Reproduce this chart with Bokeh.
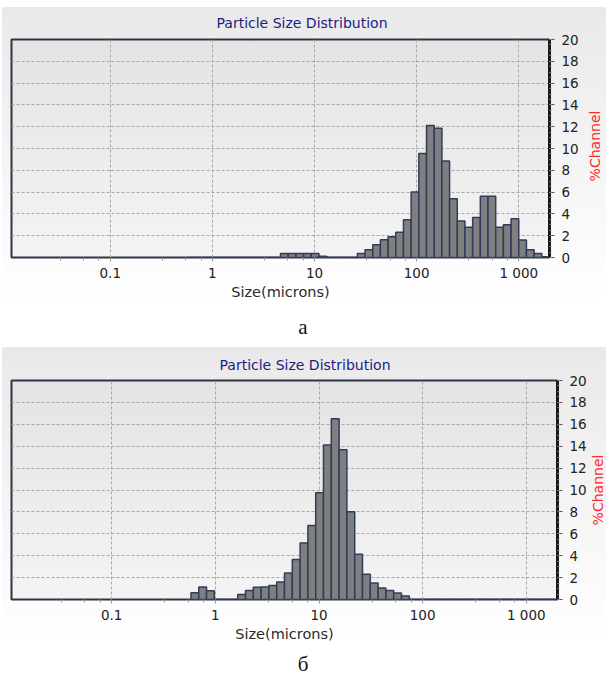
import math
from bokeh.plotting import figure
from bokeh.models import Range1d, FixedTicker, SingleIntervalTicker, Div
from bokeh.layouts import column
from bokeh.embed import file_html
from bokeh.resources import INLINE

# Channel edges (microns) of the analyser
channel_edges = [0.5814, 0.6915, 0.8222, 0.9777, 1.163, 1.381, 1.642, 1.953, 2.323, 2.762,
                 3.284, 3.906, 4.645, 5.524, 6.570, 7.813, 9.291, 11.05, 13.14, 15.63,
                 18.58, 22.10, 26.28, 31.25, 37.16, 44.19, 52.56, 62.50, 74.33, 88.39,
                 105.1, 125.0, 148.7, 176.8, 210.2, 250.0, 297.3, 353.6, 420.4, 500.0,
                 594.6, 707.1, 840.9, 1000.0, 1189.0, 1414.0, 1682.0, 2000.0]

# %Channel, panel "a"
pct_a = [0, 0, 0, 0, 0, 0, 0, 0, 0, 0,
         0, 0, 0.37, 0.37, 0.37, 0.37, 0.37, 0.12, 0, 0,
         0, 0, 0.37, 0.72, 1.16, 1.62, 1.90, 2.32, 3.47, 6.00,
         9.55, 12.10, 11.85, 8.85, 5.40, 3.36, 2.77, 3.68, 5.63, 5.63,
         2.77, 3.00, 3.56, 1.61, 0.72, 0.36, 0.08]

# %Channel, panel "б"
pct_b = [0.62, 1.15, 0.80, 0, 0, 0, 0.45, 0.82, 1.13, 1.14,
         1.27, 1.60, 2.42, 3.66, 5.15, 6.76, 9.75, 14.10, 16.50, 13.68,
         8.02, 4.13, 2.30, 1.50, 1.06, 0.83, 0.59, 0.33, 0, 0,
         0, 0, 0, 0, 0, 0, 0, 0, 0, 0,
         0, 0, 0, 0, 0, 0, 0]

x_start, x_end = 0.01079, 2000.0
y_start, y_end = 0, 20
x_major = [0.1, 1, 10, 100, 1000]
x_minor = [0.0325, 0.055, 0.0775, 0.325, 0.55, 0.775, 3.25, 5.5, 7.75,
           32.5, 55, 77.5, 325, 550, 775]
x_labels = {0.1: "0.1", 1: "1", 10: "10", 100: "100", 1000: "1 000"}

TITLE = "Particle Size Distribution"
X_TITLE = "Size(microns)"
Y_TITLE = "%Channel"
FONT = "DejaVu Sans"


def make_panel(pct, w, h, bl, br, bt, bb, title_offset, title_standoff):
    p = figure(width=w, height=h, x_axis_type="log", y_axis_location="right",
               x_range=Range1d(x_start, x_end), y_range=Range1d(y_start, y_end),
               output_backend="svg", toolbar_location=None,
               min_border_left=bl, min_border_right=br, min_border_top=bt, min_border_bottom=bb,
               border_fill_color=None,
               background_fill_color="#000000", background_fill_alpha=0.03,
               outline_line_color="#2e3547", outline_line_width=2)

    p.title.text = TITLE
    p.title.align = "left"
    p.title.offset = title_offset
    p.title.text_font = FONT
    p.title.text_font_size = "14px"
    p.title.text_font_style = "normal"
    p.title.text_color = "#1c1c84"
    p.title.standoff = title_standoff

    xa = p.xaxis[0]
    xa.ticker = FixedTicker(ticks=x_major, minor_ticks=x_minor)
    xa.major_label_overrides = x_labels
    xa.axis_label = X_TITLE
    xa.axis_label_text_font = FONT
    xa.axis_label_text_font_size = "14.5px"
    xa.axis_label_text_font_style = "normal"
    xa.axis_label_text_color = "#2a2a2a"
    xa.axis_label_standoff = 0
    xa.major_label_text_font = FONT
    xa.major_label_text_font_size = "13.5px"
    xa.major_label_text_color = "#222222"
    xa.major_label_standoff = 3
    xa.axis_line_color = None
    xa.major_tick_line_color = "#9a9a9a"
    xa.minor_tick_line_color = "#9a9a9a"
    xa.major_tick_in = 0
    xa.major_tick_out = 4
    xa.minor_tick_in = 0
    xa.minor_tick_out = 3

    ya = p.yaxis[0]
    ya.ticker = SingleIntervalTicker(interval=2, num_minor_ticks=4)
    ya.major_label_text_font = FONT
    ya.major_label_text_font_size = "13.5px"
    ya.major_label_text_color = "#222222"
    ya.major_label_standoff = 7
    ya.axis_line_color = "#1a1a1a"
    ya.axis_line_width = 3
    ya.major_tick_line_color = "#555555"
    ya.minor_tick_line_color = "#888888"
    ya.major_tick_in = 0
    ya.major_tick_out = 5
    ya.minor_tick_in = 0
    ya.minor_tick_out = 2

    p.xgrid[0].ticker = xa.ticker
    p.ygrid[0].ticker = ya.ticker
    for g in (p.xgrid[0], p.ygrid[0]):
        g.grid_line_color = "#a8a8a8"
        g.grid_line_dash = "3 2"
        g.grid_line_width = 1

    p.quad(left=channel_edges[:-1], right=channel_edges[1:], bottom=0, top=pct,
           fill_color="#7f7f7f", line_color="#2f3c5c", line_width=1.5)
    return p


def y_title(left, top):
    # rotated axis title to the right of the value axis, reading bottom to top
    return Div(text=Y_TITLE, width=80, height=20, margin=0,
               styles={"position": "absolute", "left": f"{left}px", "top": f"{top}px",
                       "transform": "rotate(-90deg)", "transform-origin": "50% 50%",
                       "font-family": f"'{FONT}', sans-serif", "font-size": "14px",
                       "color": "#ff2a2a", "text-align": "center", "line-height": "20px",
                       "white-space": "nowrap"})


def panel_box(p, lab, h, bg):
    return column(p, lab, width=606, height=h,
                  styles={"background": bg, "position": "relative"})


def letter(txt, h, lh):
    return Div(text=txt, width=606, height=h, margin=0,
               styles={"font-family": "'Liberation Serif', serif", "font-size": "21px",
                       "text-align": "center", "line-height": lh, "color": "#111111",
                       "overflow": "hidden"})


bg_a = ("linear-gradient(to right, #ffffff 2px, rgba(255,255,255,0) 2px), "
        "linear-gradient(to bottom, #ffffff 0px, #ffffff 7px, #e9e9e9 7px, #ffffff 100%)")
bg_b = ("linear-gradient(to right, #ffffff 2px, rgba(255,255,255,0) 2px), "
        "linear-gradient(to bottom, #e9e9e9 0%, #ffffff 100%)")

pa = make_panel(pct_a, 598, 302, 11, 49, 39, 45, 205, 17)
da = letter("a", 45, "50px")
pb = make_panel(pct_b, 606, 297, 11, 49, 32, 44, 208, 15)
db = letter("б", 33, "40px")

layout = column(panel_box(pa, y_title(555, 136), 302, bg_a), da,
                panel_box(pb, y_title(558, 133), 297, bg_b), db)
open("out.html", "w").write(file_html(layout, INLINE))
